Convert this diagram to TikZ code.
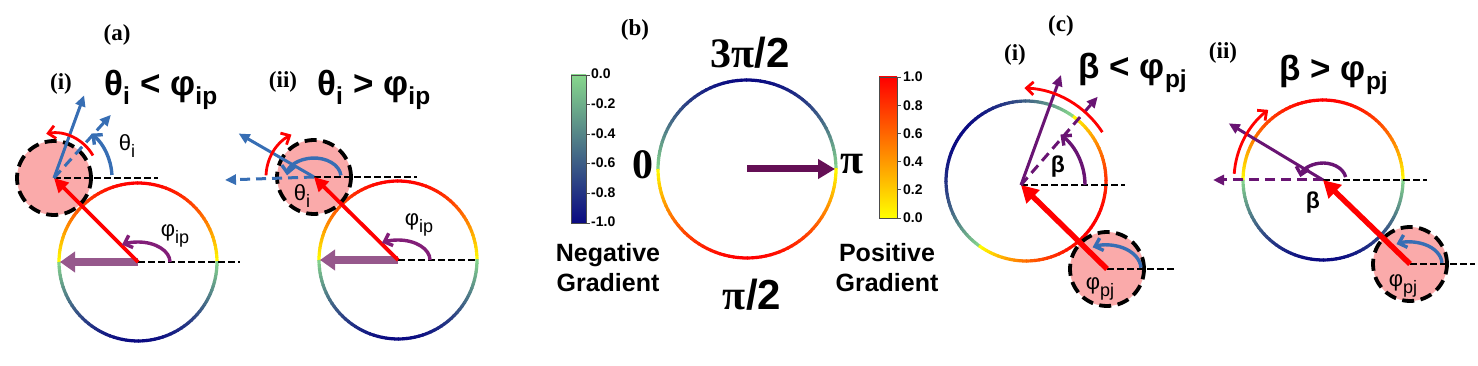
\documentclass[tikz,border=0pt]{standalone}
\usepackage{fontspec}
\setmainfont{Liberation Serif}
\setsansfont{Liberation Sans}
\usepackage{tikz}
\usetikzlibrary{arrows.meta}
\definecolor{pinkfill}{RGB}{250,170,170}
\definecolor{gradgreen}{RGB}{135,215,140}
\definecolor{gradnavy}{RGB}{10,10,130}
\definecolor{steelblue}{RGB}{55,110,180}
\definecolor{mauve}{RGB}{150,88,140}
\definecolor{plum}{RGB}{130,30,120}
\definecolor{grape}{RGB}{105,20,115}
\definecolor{darkplum}{RGB}{100,15,85}
\tikzset{
    particle/.style={circle, draw=black, fill=pinkfill, line width=3.8pt,
        dash pattern=on 12pt off 6.5pt, minimum size=74pt, inner sep=0pt},
    refline/.style={draw=black, line width=2.2pt, dash pattern=on 6.5pt off 3.5pt},
    pullarrow/.style={draw=red, line width=3.8pt, -{Triangle[length=14pt,width=14pt]}},
    thickpull/.style={draw=red, line width=5.5pt, -{Triangle[length=17pt,width=18pt]}},
    fatarrow/.style={line width=8pt, -{Triangle[length=15pt,width=20pt]}},
    thinarrow/.style={line width=3pt, -{Triangle[length=11pt,width=10pt]}},
    dasharrow/.style={thinarrow, dash pattern=on 10pt off 6pt},
    turnarrow/.style={line width=3.4pt, -{Straight Barb[length=7pt,width=13pt]}},
    % Text styles
    panelname/.style={font=\rmfamily\bfseries\fontsize{23}{25}\selectfont},
    titletext/.style={font=\sffamily\bfseries\fontsize{35}{40}\selectfont},
    anglabel/.style={font=\sffamily\fontsize{22}{24}\selectfont},
    betalabel/.style={font=\sffamily\bfseries\fontsize{23}{24}\selectfont},
    bigsym/.style={font=\bfseries\fontsize{42}{46}\selectfont},
    gradlabel/.style={font=\sffamily\bfseries\fontsize{25}{30}\selectfont, align=center},
    ticklabel/.style={font=\sffamily\bfseries\fontsize{14}{15}\selectfont, anchor=west, inner sep=0pt}
}
\newcommand{\lowsub}[1]{\raisebox{-0.55ex}{\fontsize{18}{18}\selectfont #1}}
% ring coloured by cos of the angle to its red side
\newcommand{\gradring}[3]{%
    \foreach \a in {0,3,...,357} {
        \pgfmathsetmacro\gval{cos(\a+1.5-#3)}
        \pgfmathtruncatemacro\gpct{round(100*abs(\gval))}
        \ifdim\gval pt<0pt \colorlet{segcol}{gradnavy!\gpct!gradgreen}\else\colorlet{segcol}{red!\gpct!yellow}\fi
        \draw[segcol, line width=3.2pt] (#1) ++(\a:#2) arc[start angle=\a, end angle=\a+3.6, radius=#2];
    }
}

\begin{document}
\begin{tikzpicture}[x=1pt, y=1pt]
    \useasboundingbox (0,0) rectangle (1478,-366);

    % (a)(i)
    \coordinate (ai-c) at (138,-262);
    \gradring{ai-c}{79}{90}
    \node[particle] (ai-p) at (54,-178) {};
    \draw[refline] (ai-p.center) -- ++(104,0);
    \draw[refline] (ai-c) -- ++(102,0);
    \draw[fatarrow, mauve] (ai-c) -- ++(-78,0);
    \draw[pullarrow] (ai-c) -- (ai-p.center);
    \draw[turnarrow, plum] (ai-c) ++(32,0) arc[start angle=0, end angle=120, x radius=32, y radius=20];
    \draw[thinarrow, steelblue] (ai-p.center) -- ++(70:88);
    \draw[dasharrow, steelblue] (ai-p.center) -- ++(48:85);
    \draw[turnarrow, steelblue] (ai-p.center) ++(3:58) arc[start angle=3, end angle=50, radius=58];
    \draw[turnarrow, red, line width=2.8pt] (ai-p.center) ++(30:45) arc[start angle=30, end angle=100, radius=45];
    \node[anglabel] (ai-theta) at (127,-146) {θ\lowsub{i}};
    \node[anglabel] (ai-phi) at (175,-236) {φ\lowsub{ip}};
    \node[titletext] (ai-title) at (161,-90) {θ\textsubscript{i} < φ\textsubscript{ip}};
    \node[panelname] (ai-name) at (61,-84) {(i)};
    \node[panelname] (a-name) at (117,-35) {(a)};

    % (a)(ii)
    \coordinate (aii-c) at (398,-260);
    \gradring{aii-c}{79}{90}
    \node[particle] (aii-p) at (314,-177) {};
    \draw[refline] (aii-p.center) -- ++(103,0);
    \draw[refline] (aii-c) -- ++(80,0);
    \draw[fatarrow, mauve] (aii-c) -- ++(-78,0);
    \draw[pullarrow] (aii-c) -- (aii-p.center);
    \draw[turnarrow, plum] (aii-c) ++(32,0) arc[start angle=0, end angle=120, x radius=32, y radius=20];
    \draw[thinarrow, steelblue] (aii-p.center) -- ++(150:87);
    \draw[dasharrow, steelblue] (aii-p.center) -- ++(-89,-3);
    \draw[turnarrow, steelblue] (aii-p.center) ++({27*cos(5)},{19*sin(5)}) arc[start angle=5, end angle=175, x radius=27, y radius=19];
    \draw[turnarrow, red, line width=2.8pt] (aii-p.center) ++(178:48) arc[start angle=178, end angle=118, radius=48];
    \node[anglabel] (aii-theta) at (302,-196) {θ\lowsub{i}};
    \node[anglabel] (aii-phi) at (419,-225) {φ\lowsub{ip}};
    \node[titletext] (aii-title) at (374,-90) {θ\textsubscript{i} > φ\textsubscript{ip}};
    \node[panelname] (aii-name) at (283,-82) {(ii)};

    % (b)
    \coordinate (b-c) at (747,-169);
    \gradring{b-c}{89}{270}
    \draw[darkplum, line width=7pt, -{Triangle[length=17pt,width=19pt]}] (b-c) -- ++(88,0);
    \node[panelname] (b-name) at (635,-30) {(b)};
    \node[bigsym] (b-top) at (750,-53) {3π\textsf{/2}};
    \node[bigsym] (b-bot) at (752,-295) {π\textsf{/2}};
    \node[bigsym] (b-left) at (643,-165) {0};
    \node[bigsym] (b-right) at (852,-164) {π};
    % colour bars
    \shade[top color=gradgreen, bottom color=gradnavy, middle color=gradnavy!50!gradgreen] (571,-75) rectangle (586,-223);
    \draw[black!70, line width=0.8pt] (571,-75) rectangle (586,-223);
    \foreach \v [count=\k from 0] in {0.0,-0.2,-0.4,-0.6,-0.8,-1.0} {
        \draw[black!70, line width=0.8pt] (586,{-75-29.6*\k}) -- ++(4,0);
        \node[ticklabel] (negtick\k) at (591,{-74-29.6*\k}) {\v};
    }
    \shade[top color=red, bottom color=yellow, middle color=red!50!yellow] (879,-77) rectangle (897,-218);
    \draw[black!70, line width=0.8pt] (879,-77) rectangle (897,-218);
    \foreach \v [count=\k from 0] in {1.0,0.8,0.6,0.4,0.2,0.0} {
        \draw[black!70, line width=0.8pt] (897,{-77-28.2*\k}) -- ++(4,0);
        \node[ticklabel] (postick\k) at (903,{-77-28.2*\k}) {\v};
    }
    \node[gradlabel] (neg-label) at (608,-268) {Negative\\Gradient};
    \node[gradlabel] (pos-label) at (887,-268) {Positive\\Gradient};

    % (c)(i)
    \coordinate (ci-c) at (1026,-181);
    \coordinate (ci-o) at (1021,-185);
    \gradring{ci-c}{80}{-35}
    \node[particle] (ci-p) at (1107,-269) {};
    \draw[refline] (ci-p.center) -- ++(68,0);
    \draw[refline] (ci-o) -- ++(104,0);
    \draw[thickpull] (ci-p.center) -- (ci-o);
    \draw[turnarrow, steelblue] (ci-p.center) ++({34*cos(3)},{24*sin(3)}) arc[start angle=3, end angle=115, x radius=34, y radius=24];
    \draw[thinarrow, grape] (ci-o) -- ++(70:117);
    \draw[dasharrow, grape] (ci-o) -- ++(49:117);
    \draw[turnarrow, grape] (ci-o) ++(0:64) arc[start angle=0, end angle=52, radius=64];
    \draw[turnarrow, red, line width=2.8pt] (ci-o) ++(33:97) arc[start angle=33, end angle=88, radius=97];
    \node[betalabel] (ci-beta) at (1058,-167) {β};
    \node[anglabel] (ci-phi) at (1100,-289) {φ\lowsub{pj}};
    \node[titletext] (ci-title) at (1133,-73) {β < φ\textsubscript{pj}};
    \node[panelname] (ci-name) at (1015,-55) {(i)};
    \node[panelname] (c-name) at (1061,-26) {(c)};

    % (c)(ii)
    \coordinate (cii-c) at (1323,-180);
    \gradring{cii-c}{80}{90}
    \node[particle] (cii-p) at (1410,-264) {};
    \draw[refline] (cii-p.center) -- ++(65,0);
    \draw[refline] (cii-c) -- ++(104,0);
    \draw[thickpull] (cii-p.center) -- (cii-c);
    \draw[turnarrow, steelblue] (cii-p.center) ++({32*cos(3)},{22*sin(3)}) arc[start angle=3, end angle=115, x radius=32, y radius=22];
    \draw[dasharrow, grape] (cii-c) -- ++(-110,0);
    \draw[thinarrow, grape] (cii-c) -- ++(149:110);
    \draw[turnarrow, grape] (cii-c) ++({23*cos(10)},{17*sin(10)}) arc[start angle=10, end angle=170, x radius=23, y radius=17];
    \draw[turnarrow, red, line width=2.8pt] (cii-c) ++(176:89) arc[start angle=176, end angle=128, radius=89];
    \node[betalabel] (cii-beta) at (1313,-203) {β};
    \node[anglabel] (cii-phi) at (1403,-286) {φ\lowsub{pj}};
    \node[titletext] (cii-title) at (1334,-75) {β > φ\textsubscript{pj}};
    \node[panelname] (cii-name) at (1223,-53) {(ii)};
\end{tikzpicture}
\end{document}
